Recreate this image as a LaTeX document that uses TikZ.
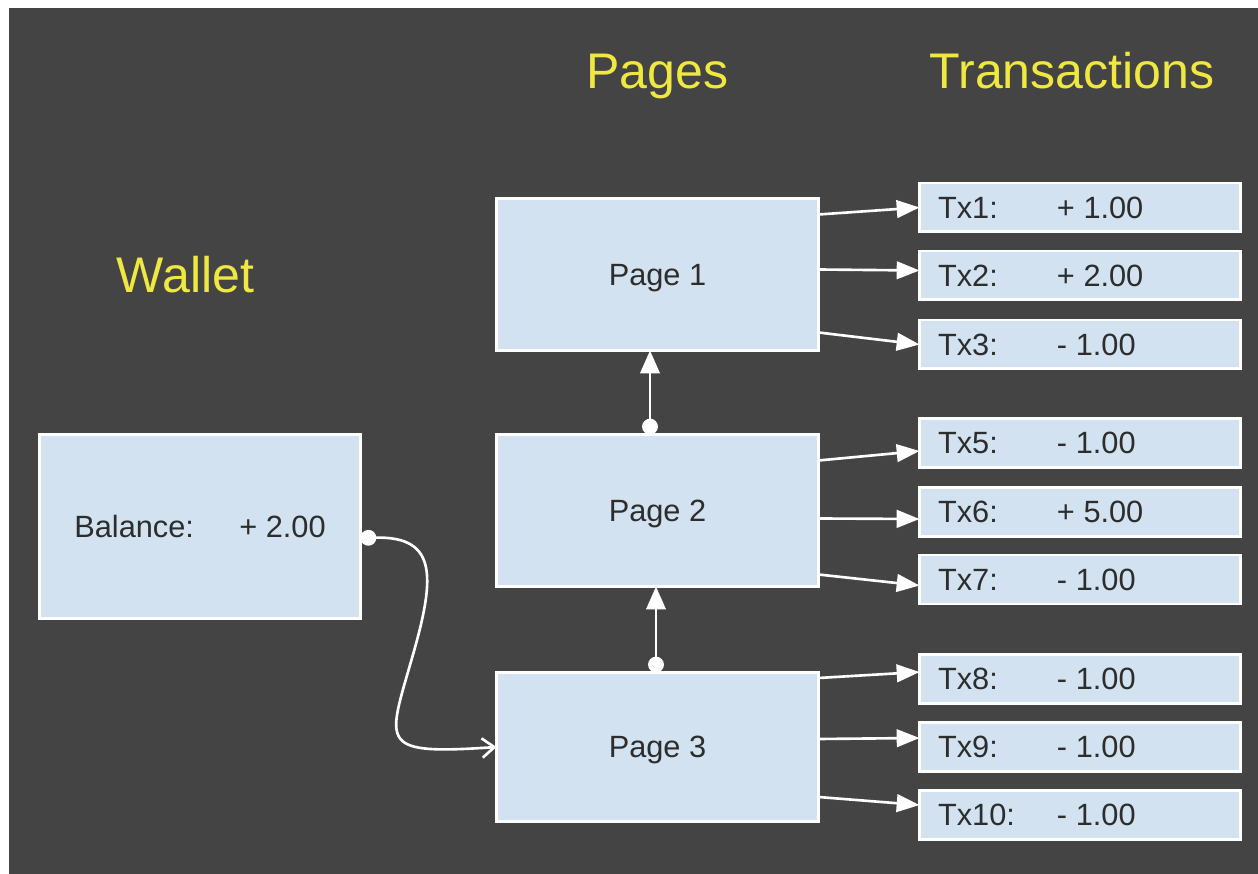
\documentclass[tikz,border=0pt]{standalone}
\usepackage{fontspec}
\setmainfont{Liberation Sans}
\usepackage{xcolor}
\usetikzlibrary{arrows.meta, positioning, calc}

\definecolor{bgdark}{RGB}{68,68,68}
\definecolor{boxblue}{RGB}{210,226,240}
\definecolor{headyellow}{RGB}{238,232,64}
\definecolor{textdark}{RGB}{45,45,45}

\newcommand{\txline}[2]{\makebox[5.68cm][l]{\makebox[2.38cm][l]{#1}#2}}

\tikzset{
  box/.style={draw=white, line width=1.7pt, fill=boxblue, text=textdark,
    font=\fontsize{17.5}{21}\selectfont, outer sep=0pt, inner sep=0pt,
    text height=12.5pt, text depth=0pt},
  pagebox/.style={box, minimum width=6.44cm, minimum height=3.04cm},
  txbox/.style={box, minimum width=6.42cm, minimum height=0.98cm},
  heading/.style={text=headyellow, font=\fontsize{28.5}{34}\selectfont, anchor=base},
  link/.style={draw=white, line width=1.5pt, -{Triangle[length=13pt,width=10pt]}},
  chain/.style={draw=white, line width=1.5pt, {Circle[length=9pt]}-{Triangle[length=13pt,width=11pt]}},
  wire/.style={draw=white, line width=1.5pt, {Circle[length=9pt]}-{Straight Barb[length=7pt,width=11pt]}}
}

\begin{document}
\begin{tikzpicture}[x=0.02cm, y=-0.02cm]
    % Background
    \useasboundingbox (0,0) rectangle (1258,874);
    \fill[white] (0,0) rectangle (1258,874);
    \fill[bgdark] (9,8) rectangle (1258,874);

    % Headings
    \node[heading] (walletlbl) at (185.5,293) {Wallet};
    \node[heading] (pageslbl) at (657.5,89) {Pages};
    \node[heading] (txlbl) at (1072,89) {Transactions};

    % Wallet
    \node[box, minimum width=6.42cm, minimum height=3.68cm] (bal) at (200,526.5)
        {\makebox[3.3cm][l]{Balance:}+ 2.00};

    % Pages
    \node[pagebox] (p1) at (657.5,274.5) {Page 1};
    \node[pagebox] (p2) at (657.5,510.5) {Page 2};
    \node[pagebox, minimum height=2.98cm] (p3) at (657.5,747) {Page 3};

    % Transactions
    \node[txbox] (tx1) at (1080,207.5) {\txline{Tx1:}{+ 1.00}};
    \node[txbox] (tx2) at (1080,275.5) {\txline{Tx2:}{+ 2.00}};
    \node[txbox] (tx3) at (1080,344.5) {\txline{Tx3:}{- 1.00}};
    \node[txbox] (tx5) at (1080,443) {\txline{Tx5:}{- 1.00}};
    \node[txbox] (tx6) at (1080,512) {\txline{Tx6:}{+ 5.00}};
    \node[txbox] (tx7) at (1080,579.5) {\txline{Tx7:}{- 1.00}};
    \node[txbox] (tx8) at (1080,679) {\txline{Tx8:}{- 1.00}};
    \node[txbox] (tx9) at (1080,747) {\txline{Tx9:}{- 1.00}};
    \node[txbox] (tx10) at (1080,815) {\txline{Tx10:}{- 1.00}};

    % Page -> transactions
    \draw[link] ($(p1.east)+(0,-60)$) -- (tx1.west);
    \draw[link] ($(p1.east)+(0,-5)$) -- ($(tx2.west)+(0,-5)$);
    \draw[link] ($(p1.east)+(0,58)$) -- (tx3.west);
    \draw[link] ($(p2.east)+(0,-50)$) -- ($(tx5.west)+(0,8)$);
    \draw[link] ($(p2.east)+(0,8)$) -- ($(tx6.west)+(0,7)$);
    \draw[link] ($(p2.east)+(0,64)$) -- ($(tx7.west)+(0,6)$);
    \draw[link] ($(p3.east)+(0,-69)$) -- ($(tx8.west)+(0,-7)$);
    \draw[link] ($(p3.east)+(0,-8)$) -- ($(tx9.west)+(0,-9)$);
    \draw[link] ($(p3.east)+(0,50)$) -- ($(tx10.west)+(0,-10)$);

    % Page chain
    \draw[chain] ($(p2.north)+(-7.5,0)$) -- ($(p1.south)+(-7.5,0)$);
    \draw[chain] ($(p3.north)+(-1.5,0)$) -- ($(p2.south)+(-1.5,0)$);

    % Wallet -> last page
    \draw[wire] ($(bal.east)+(0,11.5)$) .. controls (440,536) and (435,580) .. (410,665)
        .. controls (387,745) and (380,755) .. (p3.west);
\end{tikzpicture}
\end{document}
